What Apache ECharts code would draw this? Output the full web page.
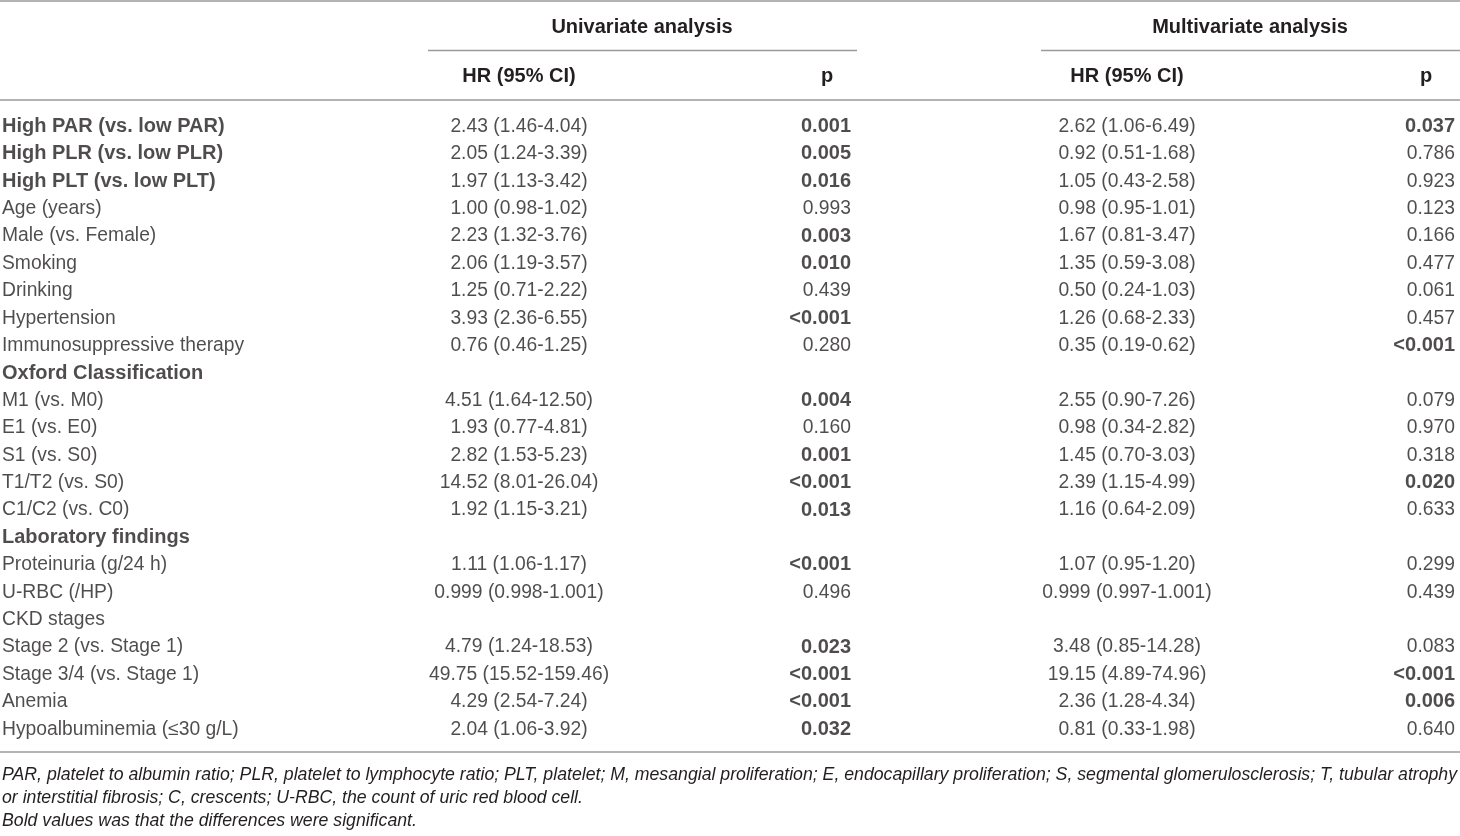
<!DOCTYPE html>
<html>
<head>
<meta charset="utf-8">
<script src="https://cdn.jsdelivr.net/npm/echarts@6/dist/echarts.min.js"></script>
<style>
html,body{margin:0;padding:0;background:#fff;}
#main{width:1460px;height:836px;}
</style>
</head>
<body>
<div id="main"></div>
<script>
// ---------- data ----------
const groupHeaders = ['Univariate analysis', 'Multivariate analysis'];
const colHeaders = ['HR (95% CI)', 'p', 'HR (95% CI)', 'p'];
const rowLabels = [
  'High PAR (vs. low PAR)', 'High PLR (vs. low PLR)', 'High PLT (vs. low PLT)',
  'Age (years)', 'Male (vs. Female)', 'Smoking', 'Drinking', 'Hypertension',
  'Immunosuppressive therapy', 'Oxford Classification', 'M1 (vs. M0)', 'E1 (vs. E0)',
  'S1 (vs. S0)', 'T1/T2 (vs. S0)', 'C1/C2 (vs. C0)', 'Laboratory findings',
  'Proteinuria (g/24 h)', 'U-RBC (/HP)', 'CKD stages', 'Stage 2 (vs. Stage 1)',
  'Stage 3/4 (vs. Stage 1)', 'Anemia', 'Hypoalbuminemia (\u226430 g/L)'
];
const boldLabels = ['High PAR (vs. low PAR)', 'High PLR (vs. low PLR)', 'High PLT (vs. low PLT)',
  'Oxford Classification', 'Laboratory findings'];
const uniHR = [
  '2.43 (1.46-4.04)', '2.05 (1.24-3.39)', '1.97 (1.13-3.42)', '1.00 (0.98-1.02)',
  '2.23 (1.32-3.76)', '2.06 (1.19-3.57)', '1.25 (0.71-2.22)', '3.93 (2.36-6.55)',
  '0.76 (0.46-1.25)', '', '4.51 (1.64-12.50)', '1.93 (0.77-4.81)', '2.82 (1.53-5.23)',
  '14.52 (8.01-26.04)', '1.92 (1.15-3.21)', '', '1.11 (1.06-1.17)', '0.999 (0.998-1.001)',
  '', '4.79 (1.24-18.53)', '49.75 (15.52-159.46)', '4.29 (2.54-7.24)', '2.04 (1.06-3.92)'
];
const uniP = [
  '0.001', '0.005', '0.016', '0.993', '0.003', '0.010', '0.439', '<0.001', '0.280', '',
  '0.004', '0.160', '0.001', '<0.001', '0.013', '', '<0.001', '0.496', '',
  '0.023', '<0.001', '<0.001', '0.032'
];
const multiHR = [
  '2.62 (1.06-6.49)', '0.92 (0.51-1.68)', '1.05 (0.43-2.58)', '0.98 (0.95-1.01)',
  '1.67 (0.81-3.47)', '1.35 (0.59-3.08)', '0.50 (0.24-1.03)', '1.26 (0.68-2.33)',
  '0.35 (0.19-0.62)', '', '2.55 (0.90-7.26)', '0.98 (0.34-2.82)', '1.45 (0.70-3.03)',
  '2.39 (1.15-4.99)', '1.16 (0.64-2.09)', '', '1.07 (0.95-1.20)', '0.999 (0.997-1.001)',
  '', '3.48 (0.85-14.28)', '19.15 (4.89-74.96)', '2.36 (1.28-4.34)', '0.81 (0.33-1.98)'
];
const multiP = [
  '0.037', '0.786', '0.923', '0.123', '0.166', '0.477', '0.061', '0.457', '<0.001', '',
  '0.079', '0.970', '0.318', '0.020', '0.633', '', '0.299', '0.439', '',
  '0.083', '<0.001', '0.006', '0.640'
];
const footnotes = [
  'PAR, platelet to albumin ratio; PLR, platelet to lymphocyte ratio; PLT, platelet; M, mesangial proliferation; E, endocapillary proliferation; S, segmental glomerulosclerosis; T, tubular atrophy',
  'or interstitial fibrosis; C, crescents; U-RBC, the count of uric red blood cell.',
  'Bold values was that the differences were significant.'
];

// ---------- layout ----------
const FONT = '"Liberation Sans", Arial, Helvetica, sans-serif';
const TXT = '#231f20';
const LINE = '#9a9a9a';
const FS = 19.3;
const FSB = 20;
const colX = { label: 2, uniHR: 519, uniP: 851, multiHR: 1127, multiP: 1455 };

function isSig(p) {
  if (!p) return false;
  if (p.charAt(0) === '<') return true;
  return parseFloat(p) < 0.05;
}

function makeSeries(values, x, align, boldFn) {
  return {
    type: 'scatter',
    symbolSize: 1,
    itemStyle: { color: 'rgba(0,0,0,0)' },
    silent: true,
    animation: false,
    data: values.map((v, i) => {
      const b = boldFn(v, i);
      return {
        value: [x, i],
        name: v,
        label: { fontWeight: b ? 'bold' : 'normal', fontSize: b ? FSB : FS }
      };
    }).filter(d => d.name !== ''),
    label: {
      show: true,
      position: 'inside',
      align: align,
      verticalAlign: 'middle',
      formatter: p => p.name,
      fontFamily: FONT,
      fontSize: FS,
      color: TXT
    }
  };
}

const nRows = rowLabels.length;
const firstRowY = 126.5, rowH = 27.4;
const gridTop = firstRowY - rowH / 2;
const gridBottom = 836 - (firstRowY + rowH * (nRows - 0.5));

function hline(x1, x2, y) {
  return { type: 'line', shape: { x1: x1, y1: y, x2: x2, y2: y },
    style: { stroke: LINE, lineWidth: 1.5 }, silent: true };
}
function txt(x, y, s, align, weight, style, size) {
  return { type: 'text', x: x, y: y, silent: true,
    style: { text: s, textAlign: align, textVerticalAlign: 'middle',
      font: (style || 'normal') + ' ' + (weight || 'normal') + ' ' + (size || FS) + 'px ' + FONT,
      fill: TXT } };
}

const graphics = [
  hline(0, 1460, 1),
  txt(642, 27, groupHeaders[0], 'center', 'bold', 'normal', FSB),
  txt(1250, 27, groupHeaders[1], 'center', 'bold', 'normal', FSB),
  hline(428, 857, 50.5),
  hline(1041, 1460, 50.5),
  txt(colX.uniHR, 76, colHeaders[0], 'center', 'bold', 'normal', FSB),
  txt(827, 76, colHeaders[1], 'center', 'bold', 'normal', FSB),
  txt(colX.multiHR, 76, colHeaders[2], 'center', 'bold', 'normal', FSB),
  txt(1426, 76, colHeaders[3], 'center', 'bold', 'normal', FSB),
  hline(0, 1460, 100),
  hline(0, 1460, 752)
];
footnotes.forEach((f, i) => graphics.push(txt(2, 775 + i * 23, f, 'left', 'normal', 'italic', 17.7)));

const chart = echarts.init(document.getElementById('main'), null, { renderer: 'canvas' });
chart.setOption({
  animation: false,
  backgroundColor: '#fff',
  grid: { left: 0, right: 0, top: gridTop, bottom: gridBottom, containLabel: false },
  xAxis: { type: 'value', min: 0, max: 1460, show: false },
  yAxis: { type: 'category', data: rowLabels, inverse: true, show: false, boundaryGap: true },
  series: [
    makeSeries(rowLabels, colX.label, 'left', v => boldLabels.indexOf(v) >= 0),
    makeSeries(uniHR, colX.uniHR, 'center', () => false),
    makeSeries(uniP, colX.uniP, 'right', v => isSig(v)),
    makeSeries(multiHR, colX.multiHR, 'center', () => false),
    makeSeries(multiP, colX.multiP, 'right', v => isSig(v))
  ],
  graphic: graphics
});
</script>
</body>
</html>
